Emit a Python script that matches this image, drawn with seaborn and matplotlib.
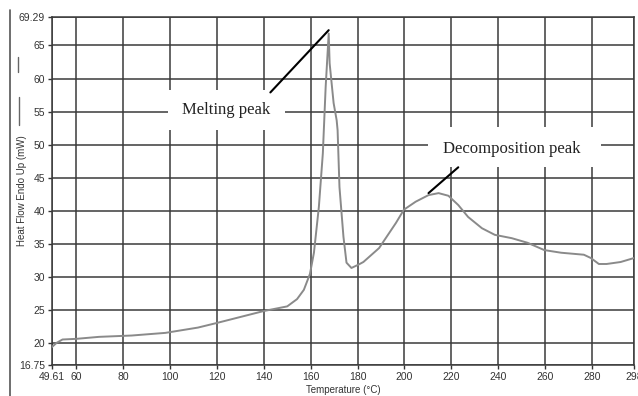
import numpy as np
import pandas as pd
import matplotlib
matplotlib.use("Agg")
import matplotlib.pyplot as plt
import seaborn as sns
from matplotlib.lines import Line2D

temperature = [49.4, 51.6, 54.1, 60.0, 69.7, 83.6, 98.0, 111.9, 120.0, 140.0, 150.0,
               154.2, 157.1, 159.7, 161.4, 163.5, 165.2, 166.4, 167.7, 168.1, 169.8,
               171.1, 171.5, 172.3, 174.0, 175.3, 177.4, 180.4, 182.5, 189.2, 196.4,
               199.8, 204.8, 210.3, 214.6, 218.8, 223.0, 227.2, 233.1, 238.6, 245.8,
               252.6, 259.7, 266.9, 276.6, 279.6, 283.0, 286.3, 292.3, 298.0]
heat_flow = [19.4, 20.1, 20.6, 20.7, 21.0, 21.2, 21.6, 22.4, 23.1, 24.9, 25.6,
             26.7, 28.1, 30.5, 33.7, 40.6, 48.7, 58.7, 66.8, 62.3, 56.3,
             53.7, 52.2, 43.6, 36.1, 32.2, 31.4, 31.9, 32.3, 34.4, 38.2,
             40.2, 41.4, 42.4, 42.7, 42.3, 40.9, 39.1, 37.4, 36.4, 35.9,
             35.2, 34.1, 33.7, 33.4, 32.9, 32.0, 32.0, 32.3, 32.9]

x_ticks = [49.61, 60, 80, 100, 120, 140, 160, 180, 200, 220, 240, 260, 280, 298]
x_tick_labels = ["49.61", "60", "80", "100", "120", "140", "160", "180", "200",
                 "220", "240", "260", "280", "298"]
y_ticks = [16.75, 20, 25, 30, 35, 40, 45, 50, 55, 60, 65, 69.29]
y_tick_labels = ["16.75", "20", "25", "30", "35", "40", "45", "50", "55", "60", "65", "69.29"]

annotations = ["Melting peak", "Decomposition peak"]

sns.set_theme(style="white")
plt.rcParams['font.family'] = ['Liberation Sans', 'DejaVu Sans']

fig = plt.figure(figsize=(6.38, 3.96), dpi=100)
ax = fig.add_axes([52/638, 1-365/396, 582/638, 348/396])

df = pd.DataFrame({"Temperature": temperature, "HeatFlow": heat_flow})
sns.lineplot(data=df, x="Temperature", y="HeatFlow", ax=ax, color="#8a8a8a",
             linewidth=1.4, zorder=3, sort=False)

ax.set_xlim(49.61, 298)
ax.set_ylim(16.75, 69.29)
ax.set_xticks(x_ticks)
ax.set_xticklabels(x_tick_labels)
ax.set_yticks(y_ticks)
ax.set_yticklabels(y_tick_labels)
ax.tick_params(axis="both", labelsize=7.5, colors="#333333", length=3, width=1,
               direction="out", pad=2, bottom=True, left=True)
ax.grid(True, color="#3a3a3a", linewidth=1.1)
for s in ax.spines.values():
    s.set_color("#3a3a3a")
    s.set_linewidth(1.1)
ax.set_xlabel("Temperature (°C)", fontsize=7, color="#333333", labelpad=2)
ax.set_ylabel("Heat Flow Endo Up (mW)", fontsize=7, color="#333333")
ax.yaxis.set_label_coords((27 - 52) / 582, 0.5)

serif = ['Liberation Serif', 'DejaVu Serif']
# Melting peak
ax.add_patch(plt.Rectangle((99.3, 52.2), 49.8, 6.0, facecolor="white",
                           edgecolor="none", zorder=2))
ax.plot([142.8, 167.7], [57.9, 67.3], color="black", linewidth=1.5, zorder=4)
ax.text(123.8, 55.2, annotations[0], family=serif, fontsize=12, ha="center",
        va="center", color="#222222", zorder=5)
# Decomposition peak
ax.add_patch(plt.Rectangle((209.9, 46.6), 73.9, 6.05, facecolor="white",
                           edgecolor="none", zorder=2))
ax.plot([210.3, 223.0], [42.7, 46.6], color="black", linewidth=1.5, zorder=4)
ax.text(246.0, 49.4, annotations[1], family=serif, fontsize=12, ha="center",
        va="center", color="#222222", zorder=5)

# outer frame line and small marks beside the y label
fig.add_artist(Line2D([10/638, 10/638], [0, 1-10/396], transform=fig.transFigure,
                      color="#555555", linewidth=1.2))
fig.add_artist(Line2D([18/638, 18/638], [1-57/396, 1-72/396], transform=fig.transFigure,
                      color="#666666", linewidth=1.0))
fig.add_artist(Line2D([19/638, 19/638], [1-97/396, 1-125/396], transform=fig.transFigure,
                      color="#666666", linewidth=1.0))

fig.savefig("out.png", dpi=100, facecolor="white")
